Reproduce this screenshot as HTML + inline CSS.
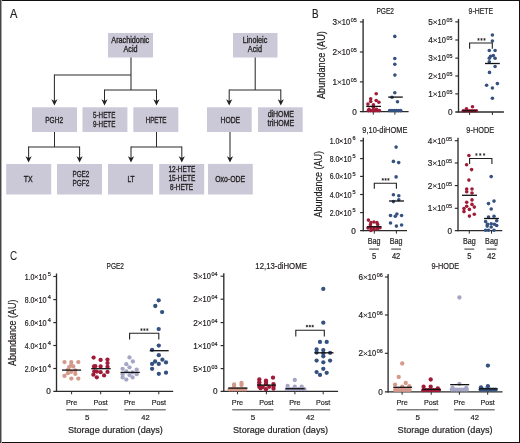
<!DOCTYPE html>
<html><head><meta charset="utf-8"><style>
html,body{margin:0;padding:0;background:#fff;}
body{width:520px;height:443px;overflow:hidden;position:relative;}
svg{position:absolute;left:0;top:0;font-family:"Liberation Sans", sans-serif;will-change:transform;}
#bd{position:absolute;left:0;top:0;width:520px;height:443px;box-sizing:border-box;}
</style></head><body>
<svg width="520" height="443" viewBox="0 0 520 443" font-family='"Liberation Sans", sans-serif'>
<rect x="0" y="0" width="520" height="443" fill="#fff"/>
<text x="13.6" y="17.6" font-size="12.4" text-anchor="middle" textLength="7.4" lengthAdjust="spacingAndGlyphs" fill="#231f20" stroke="#231f20" stroke-width="0.2" >A</text>
<rect x="108" y="33" width="45" height="24.5" fill="#cbc9d8"/>
<rect x="233" y="33" width="44.5" height="24.5" fill="#cbc9d8"/>
<rect x="32" y="107.3" width="45" height="24.700000000000003" fill="#cbc9d8"/>
<rect x="82.5" y="107.3" width="44.900000000000006" height="24.700000000000003" fill="#cbc9d8"/>
<rect x="133.3" y="107.3" width="45.0" height="24.700000000000003" fill="#cbc9d8"/>
<rect x="207" y="107.3" width="44.69999999999999" height="24.700000000000003" fill="#cbc9d8"/>
<rect x="258" y="107.3" width="44.69999999999999" height="24.700000000000003" fill="#cbc9d8"/>
<rect x="6.2" y="164" width="45.0" height="30.5" fill="#cbc9d8"/>
<rect x="57" y="164" width="45" height="30.5" fill="#cbc9d8"/>
<rect x="108" y="164" width="45" height="30.5" fill="#cbc9d8"/>
<rect x="159.2" y="164" width="45.0" height="30.5" fill="#cbc9d8"/>
<rect x="208" y="163.9" width="44.80000000000001" height="30.599999999999994" fill="#cbc9d8"/>
<text x="130.25" y="42.9" font-size="8.3" text-anchor="middle" textLength="37.8" lengthAdjust="spacingAndGlyphs" fill="#231f20" stroke="#231f20" stroke-width="0.32" >Arachidonic</text>
<text x="130.5" y="51.7" font-size="8.3" text-anchor="middle" textLength="14.0" lengthAdjust="spacingAndGlyphs" fill="#231f20" stroke="#231f20" stroke-width="0.32" >Acid</text>
<text x="255" y="42.7" font-size="8.3" text-anchor="middle" textLength="24.5" lengthAdjust="spacingAndGlyphs" fill="#231f20" stroke="#231f20" stroke-width="0.32" >Linoleic</text>
<text x="254.9" y="51.6" font-size="8.3" text-anchor="middle" textLength="14.1" lengthAdjust="spacingAndGlyphs" fill="#231f20" stroke="#231f20" stroke-width="0.32" >Acid</text>
<text x="54.15" y="122.5" font-size="8.3" text-anchor="middle" textLength="17.8" lengthAdjust="spacingAndGlyphs" fill="#231f20" stroke="#231f20" stroke-width="0.32" >PGH2</text>
<text x="104.2" y="117.7" font-size="8.3" text-anchor="middle" textLength="22.3" lengthAdjust="spacingAndGlyphs" fill="#231f20" stroke="#231f20" stroke-width="0.32" >5-HETE</text>
<text x="104.2" y="126.6" font-size="8.3" text-anchor="middle" textLength="22.3" lengthAdjust="spacingAndGlyphs" fill="#231f20" stroke="#231f20" stroke-width="0.32" >9-HETE</text>
<text x="156.1" y="122.8" font-size="8.3" text-anchor="middle" textLength="20.9" lengthAdjust="spacingAndGlyphs" fill="#231f20" stroke="#231f20" stroke-width="0.32" >HPETE</text>
<text x="230.35" y="122.7" font-size="8.3" text-anchor="middle" textLength="19.6" lengthAdjust="spacingAndGlyphs" fill="#231f20" stroke="#231f20" stroke-width="0.32" >HODE</text>
<text x="280.85" y="117.4" font-size="8.3" text-anchor="middle" textLength="26.4" lengthAdjust="spacingAndGlyphs" fill="#231f20" stroke="#231f20" stroke-width="0.32" >diHOME</text>
<text x="280.85" y="126.2" font-size="8.3" text-anchor="middle" textLength="26.8" lengthAdjust="spacingAndGlyphs" fill="#231f20" stroke="#231f20" stroke-width="0.32" >triHOME</text>
<text x="28.1" y="181.5" font-size="8.3" text-anchor="middle" textLength="8.9" lengthAdjust="spacingAndGlyphs" fill="#231f20" stroke="#231f20" stroke-width="0.32" >TX</text>
<text x="80.9" y="176.7" font-size="8.3" text-anchor="middle" textLength="16.9" lengthAdjust="spacingAndGlyphs" fill="#231f20" stroke="#231f20" stroke-width="0.32" >PGE2</text>
<text x="80.9" y="185.6" font-size="8.3" text-anchor="middle" textLength="16.9" lengthAdjust="spacingAndGlyphs" fill="#231f20" stroke="#231f20" stroke-width="0.32" >PGF2</text>
<text x="131.05" y="181.9" font-size="8.3" text-anchor="middle" textLength="7.2" lengthAdjust="spacingAndGlyphs" fill="#231f20" stroke="#231f20" stroke-width="0.32" >LT</text>
<text x="181.85" y="171.6" font-size="8.3" text-anchor="middle" textLength="26.8" lengthAdjust="spacingAndGlyphs" fill="#231f20" stroke="#231f20" stroke-width="0.32" >12-HETE</text>
<text x="181.85" y="180.6" font-size="8.3" text-anchor="middle" textLength="26.8" lengthAdjust="spacingAndGlyphs" fill="#231f20" stroke="#231f20" stroke-width="0.32" >15-HETE</text>
<text x="181.6" y="189.6" font-size="8.3" text-anchor="middle" textLength="23.1" lengthAdjust="spacingAndGlyphs" fill="#231f20" stroke="#231f20" stroke-width="0.32" >8-HETE</text>
<text x="230.15" y="181.9" font-size="8.3" text-anchor="middle" textLength="30.0" lengthAdjust="spacingAndGlyphs" fill="#231f20" stroke="#231f20" stroke-width="0.32" >Oxo-ODE</text>
<line x1="131" y1="57.5" x2="131" y2="90" stroke="#2b2b2b" stroke-width="1.05"/>
<line x1="54.4" y1="75" x2="131" y2="75" stroke="#2b2b2b" stroke-width="1.05"/>
<line x1="54.4" y1="74.5" x2="54.4" y2="101" stroke="#2b2b2b" stroke-width="1.05"/>
<path d="M51.3,99.3 L54.4,105.5 L57.5,99.3 L54.4,100.9 Z" fill="#231f20"/>
<line x1="104.5" y1="90" x2="156.5" y2="90" stroke="#2b2b2b" stroke-width="1.05"/>
<line x1="104.5" y1="89.5" x2="104.5" y2="101" stroke="#2b2b2b" stroke-width="1.05"/>
<path d="M101.4,99.3 L104.5,105.5 L107.6,99.3 L104.5,100.9 Z" fill="#231f20"/>
<line x1="156.5" y1="89.5" x2="156.5" y2="101" stroke="#2b2b2b" stroke-width="1.05"/>
<path d="M153.4,99.3 L156.5,105.5 L159.6,99.3 L156.5,100.9 Z" fill="#231f20"/>
<line x1="54.5" y1="132" x2="54.5" y2="147" stroke="#2b2b2b" stroke-width="1.05"/>
<line x1="28.6" y1="147" x2="79.6" y2="147" stroke="#2b2b2b" stroke-width="1.05"/>
<line x1="28.6" y1="146.5" x2="28.6" y2="158" stroke="#2b2b2b" stroke-width="1.05"/>
<path d="M25.5,156.3 L28.6,162.5 L31.700000000000003,156.3 L28.6,157.9 Z" fill="#231f20"/>
<line x1="79.6" y1="146.5" x2="79.6" y2="158" stroke="#2b2b2b" stroke-width="1.05"/>
<path d="M76.5,156.3 L79.6,162.5 L82.69999999999999,156.3 L79.6,157.9 Z" fill="#231f20"/>
<line x1="156.5" y1="132" x2="156.5" y2="147" stroke="#2b2b2b" stroke-width="1.05"/>
<line x1="131" y1="147" x2="181.8" y2="147" stroke="#2b2b2b" stroke-width="1.05"/>
<line x1="131" y1="146.5" x2="131" y2="158" stroke="#2b2b2b" stroke-width="1.05"/>
<path d="M127.9,156.3 L131,162.5 L134.1,156.3 L131,157.9 Z" fill="#231f20"/>
<line x1="181.8" y1="146.5" x2="181.8" y2="158" stroke="#2b2b2b" stroke-width="1.05"/>
<path d="M178.70000000000002,156.3 L181.8,162.5 L184.9,156.3 L181.8,157.9 Z" fill="#231f20"/>
<line x1="255.2" y1="57.5" x2="255.2" y2="90" stroke="#2b2b2b" stroke-width="1.05"/>
<line x1="229.2" y1="90" x2="280.8" y2="90" stroke="#2b2b2b" stroke-width="1.05"/>
<line x1="229.2" y1="89.5" x2="229.2" y2="101" stroke="#2b2b2b" stroke-width="1.05"/>
<path d="M226.1,99.3 L229.2,105.5 L232.29999999999998,99.3 L229.2,100.9 Z" fill="#231f20"/>
<line x1="280.8" y1="89.5" x2="280.8" y2="101" stroke="#2b2b2b" stroke-width="1.05"/>
<path d="M277.7,99.3 L280.8,105.5 L283.90000000000003,99.3 L280.8,100.9 Z" fill="#231f20"/>
<line x1="230" y1="132" x2="230" y2="158" stroke="#2b2b2b" stroke-width="1.05"/>
<path d="M226.9,156.3 L230,162.5 L233.1,156.3 L230,157.9 Z" fill="#231f20"/>
<text x="315.2" y="17.6" font-size="12.4" text-anchor="middle" textLength="6.6" lengthAdjust="spacingAndGlyphs" fill="#231f20" stroke="#231f20" stroke-width="0.2" >B</text>
<text x="385.25" y="13.9" font-size="8.6" text-anchor="middle" textLength="17.6" lengthAdjust="spacingAndGlyphs" fill="#231f20" stroke="#231f20" stroke-width="0.2" >PGE2</text>
<line x1="363.1" y1="18.9" x2="363.1" y2="112.3" stroke="#2b2b2b" stroke-width="1.35"/>
<line x1="359.90000000000003" y1="111.7" x2="408.6" y2="111.7" stroke="#2b2b2b" stroke-width="1.3"/>
<line x1="359.90000000000003" y1="21.9" x2="363.1" y2="21.9" stroke="#2b2b2b" stroke-width="1.15"/>
<line x1="359.90000000000003" y1="52.0" x2="363.1" y2="52.0" stroke="#2b2b2b" stroke-width="1.15"/>
<line x1="359.90000000000003" y1="81.9" x2="363.1" y2="81.9" stroke="#2b2b2b" stroke-width="1.15"/>
<line x1="373.3" y1="111.7" x2="373.3" y2="114.7" stroke="#2b2b2b" stroke-width="1.0"/>
<line x1="394.9" y1="111.7" x2="394.9" y2="114.7" stroke="#2b2b2b" stroke-width="1.0"/>
<text x="356.75" y="22.0" font-size="5.3" text-anchor="end" textLength="6.0" lengthAdjust="spacingAndGlyphs" fill="#231f20" stroke="#231f20" stroke-width="0.2" >05</text>
<text x="350.15000000000003" y="24.9" font-size="8.2" text-anchor="end" textLength="8.3" lengthAdjust="spacingAndGlyphs" fill="#231f20" stroke="#231f20" stroke-width="0.2" >10</text>
<path d="M337.60,20.60 L341.30,23.80 M337.60,23.80 L341.30,20.60" stroke="#231f20" stroke-width="0.85" fill="none"/>
<text x="337.0" y="24.9" font-size="8.2" text-anchor="end" fill="#231f20" stroke="#231f20" stroke-width="0.2" >3</text>
<text x="356.75" y="52.1" font-size="5.3" text-anchor="end" textLength="6.0" lengthAdjust="spacingAndGlyphs" fill="#231f20" stroke="#231f20" stroke-width="0.2" >05</text>
<text x="350.15000000000003" y="55.0" font-size="8.2" text-anchor="end" textLength="8.3" lengthAdjust="spacingAndGlyphs" fill="#231f20" stroke="#231f20" stroke-width="0.2" >10</text>
<path d="M337.60,50.70 L341.30,53.90 M337.60,53.90 L341.30,50.70" stroke="#231f20" stroke-width="0.85" fill="none"/>
<text x="337.0" y="55.0" font-size="8.2" text-anchor="end" fill="#231f20" stroke="#231f20" stroke-width="0.2" >2</text>
<text x="356.75" y="82.0" font-size="5.3" text-anchor="end" textLength="6.0" lengthAdjust="spacingAndGlyphs" fill="#231f20" stroke="#231f20" stroke-width="0.2" >05</text>
<text x="350.15000000000003" y="84.9" font-size="8.2" text-anchor="end" textLength="8.3" lengthAdjust="spacingAndGlyphs" fill="#231f20" stroke="#231f20" stroke-width="0.2" >10</text>
<path d="M337.60,80.60 L341.30,83.80 M337.60,83.80 L341.30,80.60" stroke="#231f20" stroke-width="0.85" fill="none"/>
<text x="337.0" y="84.9" font-size="8.2" text-anchor="end" fill="#231f20" stroke="#231f20" stroke-width="0.2" >1</text>
<text x="356.8" y="114.7" font-size="8.2" text-anchor="end" fill="#231f20" stroke="#231f20" stroke-width="0.2" >0</text>
<circle cx="376.2" cy="93.8" r="1.8" fill="#a01b37"/>
<circle cx="370.7" cy="98.8" r="1.8" fill="#a01b37"/>
<circle cx="370.7" cy="101.5" r="1.8" fill="#a01b37"/>
<circle cx="376.2" cy="100.5" r="1.8" fill="#a01b37"/>
<circle cx="378.9" cy="102.2" r="1.8" fill="#a01b37"/>
<circle cx="367.9" cy="104.1" r="1.8" fill="#a01b37"/>
<circle cx="373.4" cy="104.9" r="1.8" fill="#a01b37"/>
<circle cx="373.4" cy="107.5" r="1.8" fill="#a01b37"/>
<circle cx="368.4" cy="110.6" r="1.8" fill="#a01b37"/>
<circle cx="370.59999999999997" cy="110.6" r="1.8" fill="#a01b37"/>
<circle cx="372.79999999999995" cy="110.6" r="1.8" fill="#a01b37"/>
<circle cx="375.0" cy="110.6" r="1.8" fill="#a01b37"/>
<circle cx="377.2" cy="110.6" r="1.8" fill="#a01b37"/>
<circle cx="379.4" cy="110.6" r="1.8" fill="#a01b37"/>
<circle cx="369" cy="109.2" r="1.8" fill="#a01b37"/>
<circle cx="376.5" cy="109.3" r="1.8" fill="#a01b37"/>
<line x1="366.2" y1="106.4" x2="381" y2="106.4" stroke="#111" stroke-width="1.3"/>
<circle cx="394.8" cy="36.4" r="1.8" fill="#34517f"/>
<circle cx="394.8" cy="58.5" r="1.8" fill="#34517f"/>
<circle cx="394.8" cy="64.2" r="1.8" fill="#34517f"/>
<circle cx="394.9" cy="75.1" r="1.8" fill="#34517f"/>
<circle cx="394.8" cy="92.7" r="1.8" fill="#34517f"/>
<circle cx="392" cy="97.3" r="1.8" fill="#34517f"/>
<circle cx="397.5" cy="101.7" r="1.8" fill="#34517f"/>
<circle cx="389.7" cy="110.6" r="1.8" fill="#34517f"/>
<circle cx="391.9" cy="110.6" r="1.8" fill="#34517f"/>
<circle cx="394.09999999999997" cy="110.6" r="1.8" fill="#34517f"/>
<circle cx="396.3" cy="110.6" r="1.8" fill="#34517f"/>
<circle cx="398.5" cy="110.6" r="1.8" fill="#34517f"/>
<circle cx="400.7" cy="110.6" r="1.8" fill="#34517f"/>
<line x1="388.2" y1="97.1" x2="402.8" y2="97.1" stroke="#111" stroke-width="1.3"/>
<text x="480.8" y="14.0" font-size="8.6" text-anchor="middle" textLength="24.4" lengthAdjust="spacingAndGlyphs" fill="#231f20" stroke="#231f20" stroke-width="0.2" >9-HETE</text>
<line x1="458.5" y1="18.9" x2="458.5" y2="112.6" stroke="#2b2b2b" stroke-width="1.35"/>
<line x1="455.3" y1="112" x2="503.9" y2="112" stroke="#2b2b2b" stroke-width="1.3"/>
<line x1="455.3" y1="21.9" x2="458.5" y2="21.9" stroke="#2b2b2b" stroke-width="1.15"/>
<line x1="455.3" y1="40.0" x2="458.5" y2="40.0" stroke="#2b2b2b" stroke-width="1.15"/>
<line x1="455.3" y1="58.1" x2="458.5" y2="58.1" stroke="#2b2b2b" stroke-width="1.15"/>
<line x1="455.3" y1="76.0" x2="458.5" y2="76.0" stroke="#2b2b2b" stroke-width="1.15"/>
<line x1="455.3" y1="93.9" x2="458.5" y2="93.9" stroke="#2b2b2b" stroke-width="1.15"/>
<line x1="469.6" y1="112" x2="469.6" y2="115.0" stroke="#2b2b2b" stroke-width="1.0"/>
<line x1="492.4" y1="112" x2="492.4" y2="115.0" stroke="#2b2b2b" stroke-width="1.0"/>
<text x="452.45" y="22.0" font-size="5.3" text-anchor="end" textLength="6.0" lengthAdjust="spacingAndGlyphs" fill="#231f20" stroke="#231f20" stroke-width="0.2" >05</text>
<text x="445.85" y="24.9" font-size="8.2" text-anchor="end" textLength="8.3" lengthAdjust="spacingAndGlyphs" fill="#231f20" stroke="#231f20" stroke-width="0.2" >10</text>
<path d="M433.30,20.60 L437.00,23.80 M433.30,23.80 L437.00,20.60" stroke="#231f20" stroke-width="0.85" fill="none"/>
<text x="432.7" y="24.9" font-size="8.2" text-anchor="end" fill="#231f20" stroke="#231f20" stroke-width="0.2" >5</text>
<text x="452.45" y="40.1" font-size="5.3" text-anchor="end" textLength="6.0" lengthAdjust="spacingAndGlyphs" fill="#231f20" stroke="#231f20" stroke-width="0.2" >05</text>
<text x="445.85" y="43.0" font-size="8.2" text-anchor="end" textLength="8.3" lengthAdjust="spacingAndGlyphs" fill="#231f20" stroke="#231f20" stroke-width="0.2" >10</text>
<path d="M433.30,38.70 L437.00,41.90 M433.30,41.90 L437.00,38.70" stroke="#231f20" stroke-width="0.85" fill="none"/>
<text x="432.7" y="43.0" font-size="8.2" text-anchor="end" fill="#231f20" stroke="#231f20" stroke-width="0.2" >4</text>
<text x="452.45" y="58.2" font-size="5.3" text-anchor="end" textLength="6.0" lengthAdjust="spacingAndGlyphs" fill="#231f20" stroke="#231f20" stroke-width="0.2" >05</text>
<text x="445.85" y="61.1" font-size="8.2" text-anchor="end" textLength="8.3" lengthAdjust="spacingAndGlyphs" fill="#231f20" stroke="#231f20" stroke-width="0.2" >10</text>
<path d="M433.30,56.80 L437.00,60.00 M433.30,60.00 L437.00,56.80" stroke="#231f20" stroke-width="0.85" fill="none"/>
<text x="432.7" y="61.1" font-size="8.2" text-anchor="end" fill="#231f20" stroke="#231f20" stroke-width="0.2" >3</text>
<text x="452.45" y="76.1" font-size="5.3" text-anchor="end" textLength="6.0" lengthAdjust="spacingAndGlyphs" fill="#231f20" stroke="#231f20" stroke-width="0.2" >05</text>
<text x="445.85" y="79.0" font-size="8.2" text-anchor="end" textLength="8.3" lengthAdjust="spacingAndGlyphs" fill="#231f20" stroke="#231f20" stroke-width="0.2" >10</text>
<path d="M433.30,74.70 L437.00,77.90 M433.30,77.90 L437.00,74.70" stroke="#231f20" stroke-width="0.85" fill="none"/>
<text x="432.7" y="79.0" font-size="8.2" text-anchor="end" fill="#231f20" stroke="#231f20" stroke-width="0.2" >2</text>
<text x="452.45" y="94.0" font-size="5.3" text-anchor="end" textLength="6.0" lengthAdjust="spacingAndGlyphs" fill="#231f20" stroke="#231f20" stroke-width="0.2" >05</text>
<text x="445.85" y="96.9" font-size="8.2" text-anchor="end" textLength="8.3" lengthAdjust="spacingAndGlyphs" fill="#231f20" stroke="#231f20" stroke-width="0.2" >10</text>
<path d="M433.30,92.60 L437.00,95.80 M433.30,95.80 L437.00,92.60" stroke="#231f20" stroke-width="0.85" fill="none"/>
<text x="432.7" y="96.9" font-size="8.2" text-anchor="end" fill="#231f20" stroke="#231f20" stroke-width="0.2" >1</text>
<text x="452.5" y="115.0" font-size="8.2" text-anchor="end" fill="#231f20" stroke="#231f20" stroke-width="0.2" >0</text>
<circle cx="472.5" cy="106.7" r="1.8" fill="#a01b37"/>
<circle cx="466.5" cy="108.8" r="1.8" fill="#a01b37"/>
<circle cx="463.2" cy="110.7" r="1.8" fill="#a01b37"/>
<circle cx="465.4" cy="110.7" r="1.8" fill="#a01b37"/>
<circle cx="467.59999999999997" cy="110.7" r="1.8" fill="#a01b37"/>
<circle cx="469.8" cy="110.7" r="1.8" fill="#a01b37"/>
<circle cx="472.0" cy="110.7" r="1.8" fill="#a01b37"/>
<circle cx="474.2" cy="110.7" r="1.8" fill="#a01b37"/>
<circle cx="476.4" cy="110.7" r="1.8" fill="#a01b37"/>
<line x1="462.4" y1="110.8" x2="476.7" y2="110.8" stroke="#111" stroke-width="1.3"/>
<circle cx="492.4" cy="35" r="1.8" fill="#34517f"/>
<circle cx="492.4" cy="41" r="1.8" fill="#34517f"/>
<circle cx="489.3" cy="50.5" r="1.8" fill="#34517f"/>
<circle cx="495.1" cy="50.5" r="1.8" fill="#34517f"/>
<circle cx="490.6" cy="56.3" r="1.8" fill="#34517f"/>
<circle cx="493.3" cy="55.6" r="1.8" fill="#34517f"/>
<circle cx="495.1" cy="58.3" r="1.8" fill="#34517f"/>
<circle cx="489.3" cy="58.3" r="1.8" fill="#34517f"/>
<circle cx="489.3" cy="61.7" r="1.8" fill="#34517f"/>
<circle cx="495.1" cy="66.5" r="1.8" fill="#34517f"/>
<circle cx="489.5" cy="72.4" r="1.8" fill="#34517f"/>
<circle cx="486.6" cy="85.3" r="1.8" fill="#34517f"/>
<circle cx="492.4" cy="88" r="1.8" fill="#34517f"/>
<circle cx="497.4" cy="83.6" r="1.8" fill="#34517f"/>
<circle cx="492.4" cy="98.2" r="1.8" fill="#34517f"/>
<line x1="485" y1="63.5" x2="499.8" y2="63.5" stroke="#111" stroke-width="1.3"/>
<path d="M469.6,48.8 L469.6,43 L492.3,43 L492.3,48.8" fill="none" stroke="#231f20" stroke-width="1.1"/>
<path d="M478.50,38.15 L478.50,40.65 M479.58,38.77 L477.42,40.02 M479.58,40.02 L477.42,38.77 " stroke="#231f20" stroke-width="0.75" fill="none"/>
<path d="M481.50,38.15 L481.50,40.65 M482.58,38.77 L480.42,40.02 M482.58,40.02 L480.42,38.77 " stroke="#231f20" stroke-width="0.75" fill="none"/>
<path d="M484.50,38.15 L484.50,40.65 M485.58,38.77 L483.42,40.02 M485.58,40.02 L483.42,38.77 " stroke="#231f20" stroke-width="0.75" fill="none"/>
<text x="384.85" y="132.9" font-size="8.6" text-anchor="middle" textLength="45" lengthAdjust="spacingAndGlyphs" fill="#231f20" stroke="#231f20" stroke-width="0.2" >9,10-diHOME</text>
<line x1="363.3" y1="137.8" x2="363.3" y2="231.2" stroke="#2b2b2b" stroke-width="1.35"/>
<line x1="360.1" y1="230.6" x2="407" y2="230.6" stroke="#2b2b2b" stroke-width="1.3"/>
<line x1="360.1" y1="140.8" x2="363.3" y2="140.8" stroke="#2b2b2b" stroke-width="1.15"/>
<line x1="360.1" y1="158.6" x2="363.3" y2="158.6" stroke="#2b2b2b" stroke-width="1.15"/>
<line x1="360.1" y1="176.4" x2="363.3" y2="176.4" stroke="#2b2b2b" stroke-width="1.15"/>
<line x1="360.1" y1="194.5" x2="363.3" y2="194.5" stroke="#2b2b2b" stroke-width="1.15"/>
<line x1="360.1" y1="212.6" x2="363.3" y2="212.6" stroke="#2b2b2b" stroke-width="1.15"/>
<line x1="374.3" y1="230.6" x2="374.3" y2="233.6" stroke="#2b2b2b" stroke-width="1.0"/>
<line x1="396.4" y1="230.6" x2="396.4" y2="233.6" stroke="#2b2b2b" stroke-width="1.0"/>
<text x="355.7" y="140.4" font-size="5.6" text-anchor="end" fill="#231f20" stroke="#231f20" stroke-width="0.2" >6</text>
<text x="351.5" y="143.8" font-size="8.2" text-anchor="end" textLength="8.1" lengthAdjust="spacingAndGlyphs" fill="#231f20" stroke="#231f20" stroke-width="0.2" >10</text>
<path d="M339.35,139.55 L342.85,142.65 M339.35,142.65 L342.85,139.55" stroke="#231f20" stroke-width="0.85" fill="none"/>
<text x="339.3" y="143.8" font-size="8.2" text-anchor="end" textLength="9.6" lengthAdjust="spacingAndGlyphs" fill="#231f20" stroke="#231f20" stroke-width="0.2" >1.0</text>
<text x="355.7" y="158.2" font-size="5.6" text-anchor="end" fill="#231f20" stroke="#231f20" stroke-width="0.2" >5</text>
<text x="351.5" y="161.6" font-size="8.2" text-anchor="end" textLength="8.1" lengthAdjust="spacingAndGlyphs" fill="#231f20" stroke="#231f20" stroke-width="0.2" >10</text>
<path d="M339.35,157.35 L342.85,160.45 M339.35,160.45 L342.85,157.35" stroke="#231f20" stroke-width="0.85" fill="none"/>
<text x="339.3" y="161.6" font-size="8.2" text-anchor="end" textLength="9.6" lengthAdjust="spacingAndGlyphs" fill="#231f20" stroke="#231f20" stroke-width="0.2" >8.0</text>
<text x="355.7" y="176.0" font-size="5.6" text-anchor="end" fill="#231f20" stroke="#231f20" stroke-width="0.2" >5</text>
<text x="351.5" y="179.4" font-size="8.2" text-anchor="end" textLength="8.1" lengthAdjust="spacingAndGlyphs" fill="#231f20" stroke="#231f20" stroke-width="0.2" >10</text>
<path d="M339.35,175.15 L342.85,178.25 M339.35,178.25 L342.85,175.15" stroke="#231f20" stroke-width="0.85" fill="none"/>
<text x="339.3" y="179.4" font-size="8.2" text-anchor="end" textLength="9.6" lengthAdjust="spacingAndGlyphs" fill="#231f20" stroke="#231f20" stroke-width="0.2" >6.0</text>
<text x="355.7" y="194.1" font-size="5.6" text-anchor="end" fill="#231f20" stroke="#231f20" stroke-width="0.2" >5</text>
<text x="351.5" y="197.5" font-size="8.2" text-anchor="end" textLength="8.1" lengthAdjust="spacingAndGlyphs" fill="#231f20" stroke="#231f20" stroke-width="0.2" >10</text>
<path d="M339.35,193.25 L342.85,196.35 M339.35,196.35 L342.85,193.25" stroke="#231f20" stroke-width="0.85" fill="none"/>
<text x="339.3" y="197.5" font-size="8.2" text-anchor="end" textLength="9.6" lengthAdjust="spacingAndGlyphs" fill="#231f20" stroke="#231f20" stroke-width="0.2" >4.0</text>
<text x="355.7" y="212.2" font-size="5.6" text-anchor="end" fill="#231f20" stroke="#231f20" stroke-width="0.2" >5</text>
<text x="351.5" y="215.6" font-size="8.2" text-anchor="end" textLength="8.1" lengthAdjust="spacingAndGlyphs" fill="#231f20" stroke="#231f20" stroke-width="0.2" >10</text>
<path d="M339.35,211.35 L342.85,214.45 M339.35,214.45 L342.85,211.35" stroke="#231f20" stroke-width="0.85" fill="none"/>
<text x="339.3" y="215.6" font-size="8.2" text-anchor="end" textLength="9.6" lengthAdjust="spacingAndGlyphs" fill="#231f20" stroke="#231f20" stroke-width="0.2" >2.0</text>
<text x="355.7" y="233.6" font-size="8.2" text-anchor="end" fill="#231f20" stroke="#231f20" stroke-width="0.2" >0</text>
<circle cx="368.4" cy="220.1" r="1.8" fill="#a01b37"/>
<circle cx="370.9" cy="222.6" r="1.8" fill="#a01b37"/>
<circle cx="373.9" cy="222" r="1.8" fill="#a01b37"/>
<circle cx="376.9" cy="222.6" r="1.8" fill="#a01b37"/>
<circle cx="370.4" cy="224.7" r="1.8" fill="#a01b37"/>
<circle cx="377.7" cy="224.5" r="1.8" fill="#a01b37"/>
<circle cx="368" cy="228" r="1.8" fill="#a01b37"/>
<circle cx="370.9" cy="227.7" r="1.8" fill="#a01b37"/>
<circle cx="373.9" cy="228" r="1.8" fill="#a01b37"/>
<circle cx="376.9" cy="227.7" r="1.8" fill="#a01b37"/>
<circle cx="379.9" cy="227.7" r="1.8" fill="#a01b37"/>
<circle cx="370.9" cy="230.4" r="1.8" fill="#a01b37"/>
<circle cx="373.9" cy="229.3" r="1.8" fill="#a01b37"/>
<circle cx="377.4" cy="229" r="1.8" fill="#a01b37"/>
<line x1="366.9" y1="226.7" x2="381.5" y2="226.7" stroke="#111" stroke-width="1.3"/>
<circle cx="396.1" cy="147.1" r="1.8" fill="#34517f"/>
<circle cx="393.4" cy="161.4" r="1.8" fill="#34517f"/>
<circle cx="398.7" cy="162.6" r="1.8" fill="#34517f"/>
<circle cx="396.1" cy="176.9" r="1.8" fill="#34517f"/>
<circle cx="393.4" cy="194.7" r="1.8" fill="#34517f"/>
<circle cx="398.8" cy="195.8" r="1.8" fill="#34517f"/>
<circle cx="393.4" cy="201.6" r="1.8" fill="#34517f"/>
<circle cx="398.8" cy="199.7" r="1.8" fill="#34517f"/>
<circle cx="390.5" cy="215.5" r="1.8" fill="#34517f"/>
<circle cx="396.9" cy="214" r="1.8" fill="#34517f"/>
<circle cx="401.6" cy="215.5" r="1.8" fill="#34517f"/>
<circle cx="395.3" cy="216.3" r="1.8" fill="#34517f"/>
<circle cx="390.5" cy="223" r="1.8" fill="#34517f"/>
<circle cx="396.4" cy="226.1" r="1.8" fill="#34517f"/>
<circle cx="401.6" cy="225" r="1.8" fill="#34517f"/>
<line x1="389" y1="201" x2="404" y2="201" stroke="#111" stroke-width="1.3"/>
<path d="M374.3,188.7 L374.3,183.2 L396.4,183.2 L396.4,188.7" fill="none" stroke="#231f20" stroke-width="1.1"/>
<path d="M382.80,178.15 L382.80,180.65 M383.88,178.78 L381.72,180.03 M383.88,180.03 L381.72,178.78 " stroke="#231f20" stroke-width="0.75" fill="none"/>
<path d="M385.60,178.15 L385.60,180.65 M386.68,178.78 L384.52,180.03 M386.68,180.03 L384.52,178.78 " stroke="#231f20" stroke-width="0.75" fill="none"/>
<path d="M388.40,178.15 L388.40,180.65 M389.48,178.78 L387.32,180.03 M389.48,180.03 L387.32,178.78 " stroke="#231f20" stroke-width="0.75" fill="none"/>
<text x="480.25" y="132.9" font-size="8.6" text-anchor="middle" textLength="27.8" lengthAdjust="spacingAndGlyphs" fill="#231f20" stroke="#231f20" stroke-width="0.2" >9-HODE</text>
<line x1="458" y1="137.7" x2="458" y2="231.2" stroke="#2b2b2b" stroke-width="1.35"/>
<line x1="454.8" y1="230.6" x2="502.3" y2="230.6" stroke="#2b2b2b" stroke-width="1.3"/>
<line x1="454.8" y1="140.7" x2="458" y2="140.7" stroke="#2b2b2b" stroke-width="1.15"/>
<line x1="454.8" y1="163.0" x2="458" y2="163.0" stroke="#2b2b2b" stroke-width="1.15"/>
<line x1="454.8" y1="185.6" x2="458" y2="185.6" stroke="#2b2b2b" stroke-width="1.15"/>
<line x1="454.8" y1="208.3" x2="458" y2="208.3" stroke="#2b2b2b" stroke-width="1.15"/>
<line x1="469.3" y1="230.6" x2="469.3" y2="233.6" stroke="#2b2b2b" stroke-width="1.0"/>
<line x1="491.5" y1="230.6" x2="491.5" y2="233.6" stroke="#2b2b2b" stroke-width="1.0"/>
<text x="452.05" y="140.79999999999998" font-size="5.3" text-anchor="end" textLength="6.0" lengthAdjust="spacingAndGlyphs" fill="#231f20" stroke="#231f20" stroke-width="0.2" >05</text>
<text x="445.45000000000005" y="143.7" font-size="8.2" text-anchor="end" textLength="8.3" lengthAdjust="spacingAndGlyphs" fill="#231f20" stroke="#231f20" stroke-width="0.2" >10</text>
<path d="M432.90,139.40 L436.60,142.60 M432.90,142.60 L436.60,139.40" stroke="#231f20" stroke-width="0.85" fill="none"/>
<text x="432.3" y="143.7" font-size="8.2" text-anchor="end" fill="#231f20" stroke="#231f20" stroke-width="0.2" >4</text>
<text x="452.05" y="163.1" font-size="5.3" text-anchor="end" textLength="6.0" lengthAdjust="spacingAndGlyphs" fill="#231f20" stroke="#231f20" stroke-width="0.2" >05</text>
<text x="445.45000000000005" y="166.0" font-size="8.2" text-anchor="end" textLength="8.3" lengthAdjust="spacingAndGlyphs" fill="#231f20" stroke="#231f20" stroke-width="0.2" >10</text>
<path d="M432.90,161.70 L436.60,164.90 M432.90,164.90 L436.60,161.70" stroke="#231f20" stroke-width="0.85" fill="none"/>
<text x="432.3" y="166.0" font-size="8.2" text-anchor="end" fill="#231f20" stroke="#231f20" stroke-width="0.2" >3</text>
<text x="452.05" y="185.7" font-size="5.3" text-anchor="end" textLength="6.0" lengthAdjust="spacingAndGlyphs" fill="#231f20" stroke="#231f20" stroke-width="0.2" >05</text>
<text x="445.45000000000005" y="188.6" font-size="8.2" text-anchor="end" textLength="8.3" lengthAdjust="spacingAndGlyphs" fill="#231f20" stroke="#231f20" stroke-width="0.2" >10</text>
<path d="M432.90,184.30 L436.60,187.50 M432.90,187.50 L436.60,184.30" stroke="#231f20" stroke-width="0.85" fill="none"/>
<text x="432.3" y="188.6" font-size="8.2" text-anchor="end" fill="#231f20" stroke="#231f20" stroke-width="0.2" >2</text>
<text x="452.05" y="208.4" font-size="5.3" text-anchor="end" textLength="6.0" lengthAdjust="spacingAndGlyphs" fill="#231f20" stroke="#231f20" stroke-width="0.2" >05</text>
<text x="445.45000000000005" y="211.3" font-size="8.2" text-anchor="end" textLength="8.3" lengthAdjust="spacingAndGlyphs" fill="#231f20" stroke="#231f20" stroke-width="0.2" >10</text>
<path d="M432.90,207.00 L436.60,210.20 M432.90,210.20 L436.60,207.00" stroke="#231f20" stroke-width="0.85" fill="none"/>
<text x="432.3" y="211.3" font-size="8.2" text-anchor="end" fill="#231f20" stroke="#231f20" stroke-width="0.2" >1</text>
<text x="452.1" y="233.6" font-size="8.2" text-anchor="end" fill="#231f20" stroke="#231f20" stroke-width="0.2" >0</text>
<circle cx="468.9" cy="155.5" r="1.8" fill="#a01b37"/>
<circle cx="466.6" cy="164.7" r="1.8" fill="#a01b37"/>
<circle cx="471.6" cy="169.6" r="1.8" fill="#a01b37"/>
<circle cx="468.9" cy="180.1" r="1.8" fill="#a01b37"/>
<circle cx="466.7" cy="189" r="1.8" fill="#a01b37"/>
<circle cx="472" cy="189" r="1.8" fill="#a01b37"/>
<circle cx="466.7" cy="191.7" r="1.8" fill="#a01b37"/>
<circle cx="472" cy="193" r="1.8" fill="#a01b37"/>
<circle cx="472" cy="199.9" r="1.8" fill="#a01b37"/>
<circle cx="466.7" cy="202.2" r="1.8" fill="#a01b37"/>
<circle cx="472" cy="204.4" r="1.8" fill="#a01b37"/>
<circle cx="466.7" cy="206.2" r="1.8" fill="#a01b37"/>
<circle cx="474.3" cy="207.1" r="1.8" fill="#a01b37"/>
<circle cx="464" cy="208.5" r="1.8" fill="#a01b37"/>
<circle cx="469.4" cy="209.4" r="1.8" fill="#a01b37"/>
<circle cx="464" cy="211.6" r="1.8" fill="#a01b37"/>
<circle cx="474.3" cy="214.3" r="1.8" fill="#a01b37"/>
<circle cx="469.4" cy="216.1" r="1.8" fill="#a01b37"/>
<line x1="462" y1="195.3" x2="477" y2="195.3" stroke="#111" stroke-width="1.3"/>
<circle cx="491.2" cy="176.6" r="1.8" fill="#34517f"/>
<circle cx="488.5" cy="203.6" r="1.8" fill="#34517f"/>
<circle cx="494" cy="201.1" r="1.8" fill="#34517f"/>
<circle cx="491.2" cy="209" r="1.8" fill="#34517f"/>
<circle cx="488.5" cy="217.1" r="1.8" fill="#34517f"/>
<circle cx="494" cy="216.2" r="1.8" fill="#34517f"/>
<circle cx="485.6" cy="221.6" r="1.8" fill="#34517f"/>
<circle cx="496.7" cy="220.7" r="1.8" fill="#34517f"/>
<circle cx="487.6" cy="224.3" r="1.8" fill="#34517f"/>
<circle cx="491.2" cy="223.7" r="1.8" fill="#34517f"/>
<circle cx="494.4" cy="224.3" r="1.8" fill="#34517f"/>
<circle cx="496.7" cy="225.5" r="1.8" fill="#34517f"/>
<circle cx="487.2" cy="226.1" r="1.8" fill="#34517f"/>
<circle cx="491.2" cy="227" r="1.8" fill="#34517f"/>
<circle cx="485.6" cy="230.2" r="1.8" fill="#34517f"/>
<circle cx="488.5" cy="230.2" r="1.8" fill="#34517f"/>
<circle cx="494" cy="230.2" r="1.8" fill="#34517f"/>
<line x1="484" y1="218.5" x2="498.9" y2="218.5" stroke="#111" stroke-width="1.3"/>
<path d="M469.6,163.9 L469.6,158.5 L491.9,158.5 L491.9,163.9" fill="none" stroke="#231f20" stroke-width="1.1"/>
<path d="M476.42,153.25 L476.42,155.75 M477.50,153.88 L475.33,155.12 M477.50,155.12 L475.33,153.88 " stroke="#231f20" stroke-width="0.75" fill="none"/>
<path d="M480.25,153.25 L480.25,155.75 M481.33,153.88 L479.17,155.12 M481.33,155.12 L479.17,153.88 " stroke="#231f20" stroke-width="0.75" fill="none"/>
<path d="M484.08,153.25 L484.08,155.75 M485.17,153.88 L483.00,155.12 M485.17,155.12 L483.00,153.88 " stroke="#231f20" stroke-width="0.75" fill="none"/>
<text x="374.1" y="243.8" font-size="8.4" text-anchor="middle" textLength="12.8" lengthAdjust="spacingAndGlyphs" fill="#231f20" stroke="#231f20" stroke-width="0.2" >Bag</text>
<line x1="369.20000000000005" y1="249.1" x2="379.0" y2="249.1" stroke="#606060" stroke-width="1.3"/>
<text x="374.1" y="259.2" font-size="8.3" text-anchor="middle" textLength="4.2" lengthAdjust="spacingAndGlyphs" fill="#231f20" stroke="#231f20" stroke-width="0.2" >5</text>
<text x="396.1" y="243.8" font-size="8.4" text-anchor="middle" textLength="12.8" lengthAdjust="spacingAndGlyphs" fill="#231f20" stroke="#231f20" stroke-width="0.2" >Bag</text>
<line x1="391.20000000000005" y1="249.1" x2="401.0" y2="249.1" stroke="#606060" stroke-width="1.3"/>
<text x="396.1" y="259.2" font-size="8.3" text-anchor="middle" textLength="8.4" lengthAdjust="spacingAndGlyphs" fill="#231f20" stroke="#231f20" stroke-width="0.2" >42</text>
<text x="469.3" y="243.8" font-size="8.4" text-anchor="middle" textLength="12.8" lengthAdjust="spacingAndGlyphs" fill="#231f20" stroke="#231f20" stroke-width="0.2" >Bag</text>
<line x1="464.40000000000003" y1="249.1" x2="474.2" y2="249.1" stroke="#606060" stroke-width="1.3"/>
<text x="469.3" y="259.2" font-size="8.3" text-anchor="middle" textLength="4.2" lengthAdjust="spacingAndGlyphs" fill="#231f20" stroke="#231f20" stroke-width="0.2" >5</text>
<text x="491.5" y="243.8" font-size="8.4" text-anchor="middle" textLength="12.8" lengthAdjust="spacingAndGlyphs" fill="#231f20" stroke="#231f20" stroke-width="0.2" >Bag</text>
<line x1="486.6" y1="249.1" x2="496.4" y2="249.1" stroke="#606060" stroke-width="1.3"/>
<text x="491.5" y="259.2" font-size="8.3" text-anchor="middle" textLength="8.4" lengthAdjust="spacingAndGlyphs" fill="#231f20" stroke="#231f20" stroke-width="0.2" >42</text>
<text transform="translate(325,65.1) rotate(-90)" font-size="10" text-anchor="middle" textLength="68" lengthAdjust="spacingAndGlyphs" fill="#231f20" stroke="#231f20" stroke-width="0.2">Abundance (AU)</text>
<text transform="translate(321.8,184.3) rotate(-90)" font-size="10" text-anchor="middle" textLength="66.6" lengthAdjust="spacingAndGlyphs" fill="#231f20" stroke="#231f20" stroke-width="0.2">Abundance (AU)</text>
<text x="13.6" y="259.9" font-size="12.4" text-anchor="middle" textLength="7.2" lengthAdjust="spacingAndGlyphs" fill="#231f20" stroke="#231f20" stroke-width="0.2" stroke-opacity="0">C</text>
<text transform="translate(16.2,332.7) rotate(-90)" font-size="10" text-anchor="middle" textLength="66.6" lengthAdjust="spacingAndGlyphs" fill="#231f20" stroke="#231f20" stroke-width="0.2">Abundance (AU)</text>
<text x="115.3" y="268.6" font-size="8.6" text-anchor="middle" textLength="17.4" lengthAdjust="spacingAndGlyphs" fill="#231f20" stroke="#231f20" stroke-width="0.2" >PGE2</text>
<line x1="56.5" y1="273.5" x2="56.5" y2="391.90000000000003" stroke="#2b2b2b" stroke-width="1.35"/>
<line x1="53.3" y1="391.3" x2="173.2" y2="391.3" stroke="#2b2b2b" stroke-width="1.3"/>
<line x1="53.3" y1="276.5" x2="56.5" y2="276.5" stroke="#2b2b2b" stroke-width="1.15"/>
<line x1="53.3" y1="299.6" x2="56.5" y2="299.6" stroke="#2b2b2b" stroke-width="1.15"/>
<line x1="53.3" y1="322.6" x2="56.5" y2="322.6" stroke="#2b2b2b" stroke-width="1.15"/>
<line x1="53.3" y1="345.5" x2="56.5" y2="345.5" stroke="#2b2b2b" stroke-width="1.15"/>
<line x1="53.3" y1="368.5" x2="56.5" y2="368.5" stroke="#2b2b2b" stroke-width="1.15"/>
<line x1="71.6" y1="391.3" x2="71.6" y2="394.3" stroke="#2b2b2b" stroke-width="1.0"/>
<line x1="100.7" y1="391.3" x2="100.7" y2="394.3" stroke="#2b2b2b" stroke-width="1.0"/>
<line x1="129.6" y1="391.3" x2="129.6" y2="394.3" stroke="#2b2b2b" stroke-width="1.0"/>
<line x1="158.8" y1="391.3" x2="158.8" y2="394.3" stroke="#2b2b2b" stroke-width="1.0"/>
<text x="50.8" y="276.1" font-size="5.6" text-anchor="end" fill="#231f20" stroke="#231f20" stroke-width="0.2" >5</text>
<text x="46.599999999999994" y="279.5" font-size="8.2" text-anchor="end" textLength="8.1" lengthAdjust="spacingAndGlyphs" fill="#231f20" stroke="#231f20" stroke-width="0.2" >10</text>
<path d="M34.45,275.25 L37.95,278.35 M34.45,278.35 L37.95,275.25" stroke="#231f20" stroke-width="0.85" fill="none"/>
<text x="34.4" y="279.5" font-size="8.2" text-anchor="end" textLength="9.6" lengthAdjust="spacingAndGlyphs" fill="#231f20" stroke="#231f20" stroke-width="0.2" >1.0</text>
<text x="50.8" y="299.20000000000005" font-size="5.6" text-anchor="end" fill="#231f20" stroke="#231f20" stroke-width="0.2" >4</text>
<text x="46.599999999999994" y="302.6" font-size="8.2" text-anchor="end" textLength="8.1" lengthAdjust="spacingAndGlyphs" fill="#231f20" stroke="#231f20" stroke-width="0.2" >10</text>
<path d="M34.45,298.35 L37.95,301.45 M34.45,301.45 L37.95,298.35" stroke="#231f20" stroke-width="0.85" fill="none"/>
<text x="34.4" y="302.6" font-size="8.2" text-anchor="end" textLength="9.6" lengthAdjust="spacingAndGlyphs" fill="#231f20" stroke="#231f20" stroke-width="0.2" >8.0</text>
<text x="50.8" y="322.20000000000005" font-size="5.6" text-anchor="end" fill="#231f20" stroke="#231f20" stroke-width="0.2" >4</text>
<text x="46.599999999999994" y="325.6" font-size="8.2" text-anchor="end" textLength="8.1" lengthAdjust="spacingAndGlyphs" fill="#231f20" stroke="#231f20" stroke-width="0.2" >10</text>
<path d="M34.45,321.35 L37.95,324.45 M34.45,324.45 L37.95,321.35" stroke="#231f20" stroke-width="0.85" fill="none"/>
<text x="34.4" y="325.6" font-size="8.2" text-anchor="end" textLength="9.6" lengthAdjust="spacingAndGlyphs" fill="#231f20" stroke="#231f20" stroke-width="0.2" >6.0</text>
<text x="50.8" y="345.1" font-size="5.6" text-anchor="end" fill="#231f20" stroke="#231f20" stroke-width="0.2" >4</text>
<text x="46.599999999999994" y="348.5" font-size="8.2" text-anchor="end" textLength="8.1" lengthAdjust="spacingAndGlyphs" fill="#231f20" stroke="#231f20" stroke-width="0.2" >10</text>
<path d="M34.45,344.25 L37.95,347.35 M34.45,347.35 L37.95,344.25" stroke="#231f20" stroke-width="0.85" fill="none"/>
<text x="34.4" y="348.5" font-size="8.2" text-anchor="end" textLength="9.6" lengthAdjust="spacingAndGlyphs" fill="#231f20" stroke="#231f20" stroke-width="0.2" >4.0</text>
<text x="50.8" y="368.1" font-size="5.6" text-anchor="end" fill="#231f20" stroke="#231f20" stroke-width="0.2" >4</text>
<text x="46.599999999999994" y="371.5" font-size="8.2" text-anchor="end" textLength="8.1" lengthAdjust="spacingAndGlyphs" fill="#231f20" stroke="#231f20" stroke-width="0.2" >10</text>
<path d="M34.45,367.25 L37.95,370.35 M34.45,370.35 L37.95,367.25" stroke="#231f20" stroke-width="0.85" fill="none"/>
<text x="34.4" y="371.5" font-size="8.2" text-anchor="end" textLength="9.6" lengthAdjust="spacingAndGlyphs" fill="#231f20" stroke="#231f20" stroke-width="0.2" >2.0</text>
<text x="50.8" y="394.3" font-size="8.2" text-anchor="end" fill="#231f20" stroke="#231f20" stroke-width="0.2" >0</text>
<text x="71.6" y="404.8" font-size="8.0" text-anchor="middle" textLength="11.3" lengthAdjust="spacingAndGlyphs" fill="#231f20" stroke="#231f20" stroke-width="0.2" >Pre</text>
<text x="100.7" y="404.8" font-size="8.0" text-anchor="middle" textLength="14.3" lengthAdjust="spacingAndGlyphs" fill="#231f20" stroke="#231f20" stroke-width="0.2" >Post</text>
<text x="129.6" y="404.8" font-size="8.0" text-anchor="middle" textLength="11.3" lengthAdjust="spacingAndGlyphs" fill="#231f20" stroke="#231f20" stroke-width="0.2" >Pre</text>
<text x="158.8" y="404.8" font-size="8.0" text-anchor="middle" textLength="14.3" lengthAdjust="spacingAndGlyphs" fill="#231f20" stroke="#231f20" stroke-width="0.2" >Post</text>
<line x1="66.3" y1="409.8" x2="107.7" y2="409.8" stroke="#7f7f7f" stroke-width="1.5"/>
<line x1="124.3" y1="409.8" x2="165.8" y2="409.8" stroke="#7f7f7f" stroke-width="1.5"/>
<text x="87.15" y="419.9" font-size="8.0" text-anchor="middle" fill="#231f20" stroke="#231f20" stroke-width="0.2" >5</text>
<text x="145.39999999999998" y="419.9" font-size="8.0" text-anchor="middle" textLength="8.4" lengthAdjust="spacingAndGlyphs" fill="#231f20" stroke="#231f20" stroke-width="0.2" >42</text>
<text x="115.4" y="433.0" font-size="9.4" text-anchor="middle" textLength="95" lengthAdjust="spacingAndGlyphs" fill="#231f20" stroke="#231f20" stroke-width="0.2" >Storage duration (days)</text>
<circle cx="64.5" cy="362.1" r="2.15" fill="#d4998a"/>
<circle cx="71.3" cy="362.1" r="2.15" fill="#d4998a"/>
<circle cx="78.3" cy="362.1" r="2.15" fill="#d4998a"/>
<circle cx="71.3" cy="365" r="2.15" fill="#d4998a"/>
<circle cx="73.3" cy="366.4" r="2.15" fill="#d4998a"/>
<circle cx="69.2" cy="367.1" r="2.15" fill="#d4998a"/>
<circle cx="67.9" cy="369.8" r="2.15" fill="#d4998a"/>
<circle cx="75.3" cy="370.5" r="2.15" fill="#d4998a"/>
<circle cx="71.3" cy="371.8" r="2.15" fill="#d4998a"/>
<circle cx="67.9" cy="373.2" r="2.15" fill="#d4998a"/>
<circle cx="75.3" cy="373.9" r="2.15" fill="#d4998a"/>
<circle cx="64.5" cy="375.9" r="2.15" fill="#d4998a"/>
<circle cx="71.3" cy="378.6" r="2.15" fill="#d4998a"/>
<circle cx="78.3" cy="378.6" r="2.15" fill="#d4998a"/>
<line x1="62" y1="370.1" x2="81.1" y2="370.1" stroke="#111" stroke-width="1.3"/>
<circle cx="93.6" cy="357.6" r="2.15" fill="#a01b37"/>
<circle cx="100.6" cy="359.9" r="2.15" fill="#a01b37"/>
<circle cx="107.5" cy="359.6" r="2.15" fill="#a01b37"/>
<circle cx="107.5" cy="363.1" r="2.15" fill="#a01b37"/>
<circle cx="94" cy="366.5" r="2.15" fill="#a01b37"/>
<circle cx="100.6" cy="366.5" r="2.15" fill="#a01b37"/>
<circle cx="95.3" cy="366.2" r="2.15" fill="#a01b37"/>
<circle cx="107.5" cy="366.8" r="2.15" fill="#a01b37"/>
<circle cx="94.3" cy="371.3" r="2.15" fill="#a01b37"/>
<circle cx="100.6" cy="372.2" r="2.15" fill="#a01b37"/>
<circle cx="96.8" cy="371.6" r="2.15" fill="#a01b37"/>
<circle cx="107.5" cy="371.9" r="2.15" fill="#a01b37"/>
<circle cx="93.4" cy="374.7" r="2.15" fill="#a01b37"/>
<circle cx="104.1" cy="375.4" r="2.15" fill="#a01b37"/>
<circle cx="96.8" cy="377.3" r="2.15" fill="#a01b37"/>
<line x1="91.2" y1="368.7" x2="110.7" y2="368.7" stroke="#111" stroke-width="1.3"/>
<circle cx="129.5" cy="357.4" r="2.15" fill="#a5a6c6"/>
<circle cx="132.9" cy="361.5" r="2.15" fill="#a5a6c6"/>
<circle cx="126.3" cy="364.2" r="2.15" fill="#a5a6c6"/>
<circle cx="129.5" cy="367.3" r="2.15" fill="#a5a6c6"/>
<circle cx="122.6" cy="368.8" r="2.15" fill="#a5a6c6"/>
<circle cx="136.7" cy="369.7" r="2.15" fill="#a5a6c6"/>
<circle cx="126.3" cy="371.5" r="2.15" fill="#a5a6c6"/>
<circle cx="132.6" cy="372.4" r="2.15" fill="#a5a6c6"/>
<circle cx="122.6" cy="374.2" r="2.15" fill="#a5a6c6"/>
<circle cx="136.7" cy="374.2" r="2.15" fill="#a5a6c6"/>
<circle cx="129.5" cy="375.1" r="2.15" fill="#a5a6c6"/>
<circle cx="122.6" cy="377.4" r="2.15" fill="#a5a6c6"/>
<circle cx="132.6" cy="377.4" r="2.15" fill="#a5a6c6"/>
<circle cx="126.3" cy="379.6" r="2.15" fill="#a5a6c6"/>
<line x1="120.5" y1="372.4" x2="139.8" y2="372.4" stroke="#111" stroke-width="1.3"/>
<circle cx="158.7" cy="300.3" r="2.15" fill="#34517f"/>
<circle cx="155.3" cy="306" r="2.15" fill="#34517f"/>
<circle cx="162.1" cy="312.1" r="2.15" fill="#34517f"/>
<circle cx="158.7" cy="329.1" r="2.15" fill="#34517f"/>
<circle cx="158.8" cy="345.6" r="2.15" fill="#34517f"/>
<circle cx="152.1" cy="349.8" r="2.15" fill="#34517f"/>
<circle cx="158.8" cy="355.2" r="2.15" fill="#34517f"/>
<circle cx="155.1" cy="361.5" r="2.15" fill="#34517f"/>
<circle cx="162.4" cy="359.7" r="2.15" fill="#34517f"/>
<circle cx="152.1" cy="363.9" r="2.15" fill="#34517f"/>
<circle cx="158.8" cy="363.9" r="2.15" fill="#34517f"/>
<circle cx="166" cy="362.4" r="2.15" fill="#34517f"/>
<circle cx="152.1" cy="368.8" r="2.15" fill="#34517f"/>
<circle cx="158.8" cy="373.8" r="2.15" fill="#34517f"/>
<circle cx="166" cy="372.7" r="2.15" fill="#34517f"/>
<line x1="149.7" y1="350.7" x2="168.7" y2="350.7" stroke="#111" stroke-width="1.3"/>
<path d="M129.6,339.5 L129.6,333.3 L158.8,333.3 L158.8,339.5" fill="none" stroke="#231f20" stroke-width="1.1"/>
<path d="M141.47,328.35 L141.47,330.85 M142.55,328.98 L140.38,330.23 M142.55,330.23 L140.38,328.98 " stroke="#231f20" stroke-width="0.75" fill="none"/>
<path d="M144.40,328.35 L144.40,330.85 M145.48,328.98 L143.32,330.23 M145.48,330.23 L143.32,328.98 " stroke="#231f20" stroke-width="0.75" fill="none"/>
<path d="M147.33,328.35 L147.33,330.85 M148.42,328.98 L146.25,330.23 M148.42,330.23 L146.25,328.98 " stroke="#231f20" stroke-width="0.75" fill="none"/>
<text x="281.1" y="269.0" font-size="8.6" text-anchor="middle" textLength="51.5" lengthAdjust="spacingAndGlyphs" fill="#231f20" stroke="#231f20" stroke-width="0.2" >12,13-diHOME</text>
<line x1="223.8" y1="273.2" x2="223.8" y2="391.90000000000003" stroke="#2b2b2b" stroke-width="1.35"/>
<line x1="220.60000000000002" y1="391.3" x2="338.1" y2="391.3" stroke="#2b2b2b" stroke-width="1.3"/>
<line x1="220.60000000000002" y1="276.2" x2="223.8" y2="276.2" stroke="#2b2b2b" stroke-width="1.15"/>
<line x1="220.60000000000002" y1="299.2" x2="223.8" y2="299.2" stroke="#2b2b2b" stroke-width="1.15"/>
<line x1="220.60000000000002" y1="322.6" x2="223.8" y2="322.6" stroke="#2b2b2b" stroke-width="1.15"/>
<line x1="220.60000000000002" y1="345.6" x2="223.8" y2="345.6" stroke="#2b2b2b" stroke-width="1.15"/>
<line x1="220.60000000000002" y1="368.6" x2="223.8" y2="368.6" stroke="#2b2b2b" stroke-width="1.15"/>
<line x1="237.5" y1="391.3" x2="237.5" y2="394.3" stroke="#2b2b2b" stroke-width="1.0"/>
<line x1="266.4" y1="391.3" x2="266.4" y2="394.3" stroke="#2b2b2b" stroke-width="1.0"/>
<line x1="294.9" y1="391.3" x2="294.9" y2="394.3" stroke="#2b2b2b" stroke-width="1.0"/>
<line x1="323.2" y1="391.3" x2="323.2" y2="394.3" stroke="#2b2b2b" stroke-width="1.0"/>
<text x="217.45" y="276.3" font-size="5.3" text-anchor="end" textLength="6.0" lengthAdjust="spacingAndGlyphs" fill="#231f20" stroke="#231f20" stroke-width="0.2" >04</text>
<text x="210.85" y="279.2" font-size="8.2" text-anchor="end" textLength="8.3" lengthAdjust="spacingAndGlyphs" fill="#231f20" stroke="#231f20" stroke-width="0.2" >10</text>
<path d="M198.30,274.90 L202.00,278.10 M198.30,278.10 L202.00,274.90" stroke="#231f20" stroke-width="0.85" fill="none"/>
<text x="197.7" y="279.2" font-size="8.2" text-anchor="end" fill="#231f20" stroke="#231f20" stroke-width="0.2" >3</text>
<text x="217.45" y="299.3" font-size="5.3" text-anchor="end" textLength="6.0" lengthAdjust="spacingAndGlyphs" fill="#231f20" stroke="#231f20" stroke-width="0.2" >04</text>
<text x="210.85" y="302.2" font-size="8.2" text-anchor="end" textLength="8.3" lengthAdjust="spacingAndGlyphs" fill="#231f20" stroke="#231f20" stroke-width="0.2" >10</text>
<path d="M198.30,297.90 L202.00,301.10 M198.30,301.10 L202.00,297.90" stroke="#231f20" stroke-width="0.85" fill="none"/>
<text x="197.7" y="302.2" font-size="8.2" text-anchor="end" fill="#231f20" stroke="#231f20" stroke-width="0.2" >2</text>
<text x="217.45" y="322.70000000000005" font-size="5.3" text-anchor="end" textLength="6.0" lengthAdjust="spacingAndGlyphs" fill="#231f20" stroke="#231f20" stroke-width="0.2" >04</text>
<text x="210.85" y="325.6" font-size="8.2" text-anchor="end" textLength="8.3" lengthAdjust="spacingAndGlyphs" fill="#231f20" stroke="#231f20" stroke-width="0.2" >10</text>
<path d="M198.30,321.30 L202.00,324.50 M198.30,324.50 L202.00,321.30" stroke="#231f20" stroke-width="0.85" fill="none"/>
<text x="197.7" y="325.6" font-size="8.2" text-anchor="end" fill="#231f20" stroke="#231f20" stroke-width="0.2" >2</text>
<text x="217.45" y="345.70000000000005" font-size="5.3" text-anchor="end" textLength="6.0" lengthAdjust="spacingAndGlyphs" fill="#231f20" stroke="#231f20" stroke-width="0.2" >04</text>
<text x="210.85" y="348.6" font-size="8.2" text-anchor="end" textLength="8.3" lengthAdjust="spacingAndGlyphs" fill="#231f20" stroke="#231f20" stroke-width="0.2" >10</text>
<path d="M198.30,344.30 L202.00,347.50 M198.30,347.50 L202.00,344.30" stroke="#231f20" stroke-width="0.85" fill="none"/>
<text x="197.7" y="348.6" font-size="8.2" text-anchor="end" fill="#231f20" stroke="#231f20" stroke-width="0.2" >1</text>
<text x="217.45" y="368.70000000000005" font-size="5.3" text-anchor="end" textLength="6.0" lengthAdjust="spacingAndGlyphs" fill="#231f20" stroke="#231f20" stroke-width="0.2" >03</text>
<text x="210.85" y="371.6" font-size="8.2" text-anchor="end" textLength="8.3" lengthAdjust="spacingAndGlyphs" fill="#231f20" stroke="#231f20" stroke-width="0.2" >10</text>
<path d="M198.30,367.30 L202.00,370.50 M198.30,370.50 L202.00,367.30" stroke="#231f20" stroke-width="0.85" fill="none"/>
<text x="197.7" y="371.6" font-size="8.2" text-anchor="end" fill="#231f20" stroke="#231f20" stroke-width="0.2" >5</text>
<text x="217.5" y="394.3" font-size="8.2" text-anchor="end" fill="#231f20" stroke="#231f20" stroke-width="0.2" >0</text>
<text x="237.5" y="404.8" font-size="8.0" text-anchor="middle" textLength="11.3" lengthAdjust="spacingAndGlyphs" fill="#231f20" stroke="#231f20" stroke-width="0.2" >Pre</text>
<text x="266.4" y="404.8" font-size="8.0" text-anchor="middle" textLength="14.3" lengthAdjust="spacingAndGlyphs" fill="#231f20" stroke="#231f20" stroke-width="0.2" >Post</text>
<text x="294.9" y="404.8" font-size="8.0" text-anchor="middle" textLength="11.3" lengthAdjust="spacingAndGlyphs" fill="#231f20" stroke="#231f20" stroke-width="0.2" >Pre</text>
<text x="323.2" y="404.8" font-size="8.0" text-anchor="middle" textLength="14.3" lengthAdjust="spacingAndGlyphs" fill="#231f20" stroke="#231f20" stroke-width="0.2" >Post</text>
<line x1="232.2" y1="409.8" x2="273.4" y2="409.8" stroke="#7f7f7f" stroke-width="1.5"/>
<line x1="289.59999999999997" y1="409.8" x2="330.2" y2="409.8" stroke="#7f7f7f" stroke-width="1.5"/>
<text x="252.95" y="419.9" font-size="8.0" text-anchor="middle" fill="#231f20" stroke="#231f20" stroke-width="0.2" >5</text>
<text x="310.24999999999994" y="419.9" font-size="8.0" text-anchor="middle" textLength="8.4" lengthAdjust="spacingAndGlyphs" fill="#231f20" stroke="#231f20" stroke-width="0.2" >42</text>
<text x="280.55" y="433.0" font-size="9.4" text-anchor="middle" textLength="95" lengthAdjust="spacingAndGlyphs" fill="#231f20" stroke="#231f20" stroke-width="0.2" >Storage duration (days)</text>
<circle cx="234.1" cy="384.5" r="2.15" fill="#d4998a"/>
<circle cx="241.5" cy="382.9" r="2.15" fill="#d4998a"/>
<circle cx="241.5" cy="385" r="2.15" fill="#d4998a"/>
<circle cx="234.1" cy="385.9" r="2.15" fill="#d4998a"/>
<circle cx="229.5" cy="389.4" r="2.15" fill="#d4998a"/>
<circle cx="232.1" cy="389.4" r="2.15" fill="#d4998a"/>
<circle cx="234.7" cy="389.4" r="2.15" fill="#d4998a"/>
<circle cx="237.3" cy="389.4" r="2.15" fill="#d4998a"/>
<circle cx="239.9" cy="389.4" r="2.15" fill="#d4998a"/>
<circle cx="242.5" cy="389.4" r="2.15" fill="#d4998a"/>
<circle cx="245.1" cy="389.4" r="2.15" fill="#d4998a"/>
<line x1="228.3" y1="388.1" x2="247.5" y2="388.1" stroke="#111" stroke-width="1.3"/>
<circle cx="273" cy="377.65" r="2.15" fill="#a01b37"/>
<circle cx="259.3" cy="379.5" r="2.15" fill="#a01b37"/>
<circle cx="266" cy="380.6" r="2.15" fill="#a01b37"/>
<circle cx="259.3" cy="382.2" r="2.15" fill="#a01b37"/>
<circle cx="266" cy="382.5" r="2.15" fill="#a01b37"/>
<circle cx="273.5" cy="384.1" r="2.15" fill="#a01b37"/>
<circle cx="259.3" cy="384.4" r="2.15" fill="#a01b37"/>
<circle cx="266" cy="384.4" r="2.15" fill="#a01b37"/>
<circle cx="259.3" cy="386.8" r="2.15" fill="#a01b37"/>
<circle cx="262.8" cy="387.1" r="2.15" fill="#a01b37"/>
<circle cx="269.2" cy="386.8" r="2.15" fill="#a01b37"/>
<circle cx="273.5" cy="386.5" r="2.15" fill="#a01b37"/>
<circle cx="266" cy="389.2" r="2.15" fill="#a01b37"/>
<circle cx="273.5" cy="388.7" r="2.15" fill="#a01b37"/>
<circle cx="260.5" cy="388.3" r="2.15" fill="#a01b37"/>
<line x1="257.1" y1="385.1" x2="276" y2="385.1" stroke="#111" stroke-width="1.3"/>
<circle cx="294.8" cy="380" r="2.15" fill="#a5a6c6"/>
<circle cx="287.6" cy="386" r="2.15" fill="#a5a6c6"/>
<circle cx="294.8" cy="386.7" r="2.15" fill="#a5a6c6"/>
<circle cx="301.7" cy="386.7" r="2.15" fill="#a5a6c6"/>
<circle cx="287.0" cy="389.2" r="2.15" fill="#a5a6c6"/>
<circle cx="289.9" cy="389.2" r="2.15" fill="#a5a6c6"/>
<circle cx="292.8" cy="389.2" r="2.15" fill="#a5a6c6"/>
<circle cx="295.7" cy="389.2" r="2.15" fill="#a5a6c6"/>
<circle cx="298.6" cy="389.2" r="2.15" fill="#a5a6c6"/>
<circle cx="301.5" cy="389.2" r="2.15" fill="#a5a6c6"/>
<circle cx="304.4" cy="389.2" r="2.15" fill="#a5a6c6"/>
<line x1="285.5" y1="388.7" x2="304.7" y2="388.7" stroke="#111" stroke-width="1.3"/>
<circle cx="323.3" cy="288.9" r="2.15" fill="#34517f"/>
<circle cx="323.3" cy="322.7" r="2.15" fill="#34517f"/>
<circle cx="320" cy="341.9" r="2.15" fill="#34517f"/>
<circle cx="326.7" cy="341.9" r="2.15" fill="#34517f"/>
<circle cx="316.6" cy="349.5" r="2.15" fill="#34517f"/>
<circle cx="323.3" cy="350.1" r="2.15" fill="#34517f"/>
<circle cx="316.6" cy="352.5" r="2.15" fill="#34517f"/>
<circle cx="323.3" cy="353.2" r="2.15" fill="#34517f"/>
<circle cx="330.1" cy="352.8" r="2.15" fill="#34517f"/>
<circle cx="323.3" cy="356.3" r="2.15" fill="#34517f"/>
<circle cx="316.6" cy="360.6" r="2.15" fill="#34517f"/>
<circle cx="323.3" cy="362.3" r="2.15" fill="#34517f"/>
<circle cx="330.1" cy="360.6" r="2.15" fill="#34517f"/>
<circle cx="323.3" cy="368.8" r="2.15" fill="#34517f"/>
<circle cx="316.6" cy="372.1" r="2.15" fill="#34517f"/>
<circle cx="320" cy="374.9" r="2.15" fill="#34517f"/>
<circle cx="326.7" cy="372.8" r="2.15" fill="#34517f"/>
<line x1="314.5" y1="352.8" x2="333.5" y2="352.8" stroke="#111" stroke-width="1.3"/>
<path d="M295.8,336.5 L295.8,330.2 L324.3,330.2 L324.3,336.5" fill="none" stroke="#231f20" stroke-width="1.1"/>
<path d="M306.93,324.85 L306.93,327.35 M308.02,325.48 L305.85,326.73 M308.02,326.73 L305.85,325.48 " stroke="#231f20" stroke-width="0.75" fill="none"/>
<path d="M309.80,324.85 L309.80,327.35 M310.88,325.48 L308.72,326.73 M310.88,326.73 L308.72,325.48 " stroke="#231f20" stroke-width="0.75" fill="none"/>
<path d="M312.67,324.85 L312.67,327.35 M313.75,325.48 L311.58,326.73 M313.75,326.73 L311.58,325.48 " stroke="#231f20" stroke-width="0.75" fill="none"/>
<text x="445.3" y="268.7" font-size="8.6" text-anchor="middle" textLength="27.6" lengthAdjust="spacingAndGlyphs" fill="#231f20" stroke="#231f20" stroke-width="0.2" >9-HODE</text>
<line x1="388.1" y1="274.0" x2="388.1" y2="392.40000000000003" stroke="#2b2b2b" stroke-width="1.35"/>
<line x1="384.90000000000003" y1="391.8" x2="502.5" y2="391.8" stroke="#2b2b2b" stroke-width="1.3"/>
<line x1="384.90000000000003" y1="277.0" x2="388.1" y2="277.0" stroke="#2b2b2b" stroke-width="1.15"/>
<line x1="384.90000000000003" y1="315.0" x2="388.1" y2="315.0" stroke="#2b2b2b" stroke-width="1.15"/>
<line x1="384.90000000000003" y1="353.3" x2="388.1" y2="353.3" stroke="#2b2b2b" stroke-width="1.15"/>
<line x1="402.1" y1="391.8" x2="402.1" y2="394.8" stroke="#2b2b2b" stroke-width="1.0"/>
<line x1="431.2" y1="391.8" x2="431.2" y2="394.8" stroke="#2b2b2b" stroke-width="1.0"/>
<line x1="459.4" y1="391.8" x2="459.4" y2="394.8" stroke="#2b2b2b" stroke-width="1.0"/>
<line x1="487.7" y1="391.8" x2="487.7" y2="394.8" stroke="#2b2b2b" stroke-width="1.0"/>
<text x="382.75" y="277.1" font-size="5.3" text-anchor="end" textLength="6.0" lengthAdjust="spacingAndGlyphs" fill="#231f20" stroke="#231f20" stroke-width="0.2" >06</text>
<text x="376.15000000000003" y="280.0" font-size="8.2" text-anchor="end" textLength="8.3" lengthAdjust="spacingAndGlyphs" fill="#231f20" stroke="#231f20" stroke-width="0.2" >10</text>
<path d="M363.60,275.70 L367.30,278.90 M363.60,278.90 L367.30,275.70" stroke="#231f20" stroke-width="0.85" fill="none"/>
<text x="363.0" y="280.0" font-size="8.2" text-anchor="end" fill="#231f20" stroke="#231f20" stroke-width="0.2" >6</text>
<text x="382.75" y="315.1" font-size="5.3" text-anchor="end" textLength="6.0" lengthAdjust="spacingAndGlyphs" fill="#231f20" stroke="#231f20" stroke-width="0.2" >06</text>
<text x="376.15000000000003" y="318.0" font-size="8.2" text-anchor="end" textLength="8.3" lengthAdjust="spacingAndGlyphs" fill="#231f20" stroke="#231f20" stroke-width="0.2" >10</text>
<path d="M363.60,313.70 L367.30,316.90 M363.60,316.90 L367.30,313.70" stroke="#231f20" stroke-width="0.85" fill="none"/>
<text x="363.0" y="318.0" font-size="8.2" text-anchor="end" fill="#231f20" stroke="#231f20" stroke-width="0.2" >4</text>
<text x="382.75" y="353.40000000000003" font-size="5.3" text-anchor="end" textLength="6.0" lengthAdjust="spacingAndGlyphs" fill="#231f20" stroke="#231f20" stroke-width="0.2" >06</text>
<text x="376.15000000000003" y="356.3" font-size="8.2" text-anchor="end" textLength="8.3" lengthAdjust="spacingAndGlyphs" fill="#231f20" stroke="#231f20" stroke-width="0.2" >10</text>
<path d="M363.60,352.00 L367.30,355.20 M363.60,355.20 L367.30,352.00" stroke="#231f20" stroke-width="0.85" fill="none"/>
<text x="363.0" y="356.3" font-size="8.2" text-anchor="end" fill="#231f20" stroke="#231f20" stroke-width="0.2" >2</text>
<text x="382.8" y="394.8" font-size="8.2" text-anchor="end" fill="#231f20" stroke="#231f20" stroke-width="0.2" >0</text>
<text x="402.1" y="404.8" font-size="8.0" text-anchor="middle" textLength="11.3" lengthAdjust="spacingAndGlyphs" fill="#231f20" stroke="#231f20" stroke-width="0.2" >Pre</text>
<text x="431.2" y="404.8" font-size="8.0" text-anchor="middle" textLength="14.3" lengthAdjust="spacingAndGlyphs" fill="#231f20" stroke="#231f20" stroke-width="0.2" >Post</text>
<text x="459.4" y="404.8" font-size="8.0" text-anchor="middle" textLength="11.3" lengthAdjust="spacingAndGlyphs" fill="#231f20" stroke="#231f20" stroke-width="0.2" >Pre</text>
<text x="487.7" y="404.8" font-size="8.0" text-anchor="middle" textLength="14.3" lengthAdjust="spacingAndGlyphs" fill="#231f20" stroke="#231f20" stroke-width="0.2" >Post</text>
<line x1="396.8" y1="409.8" x2="438.2" y2="409.8" stroke="#7f7f7f" stroke-width="1.5"/>
<line x1="454.09999999999997" y1="409.8" x2="494.7" y2="409.8" stroke="#7f7f7f" stroke-width="1.5"/>
<text x="417.65" y="419.9" font-size="8.0" text-anchor="middle" fill="#231f20" stroke="#231f20" stroke-width="0.2" >5</text>
<text x="474.74999999999994" y="419.9" font-size="8.0" text-anchor="middle" textLength="8.4" lengthAdjust="spacingAndGlyphs" fill="#231f20" stroke="#231f20" stroke-width="0.2" >42</text>
<text x="445.09999999999997" y="433.0" font-size="9.4" text-anchor="middle" textLength="95" lengthAdjust="spacingAndGlyphs" fill="#231f20" stroke="#231f20" stroke-width="0.2" >Storage duration (days)</text>
<circle cx="402.2" cy="363.5" r="2.15" fill="#d4998a"/>
<circle cx="398.7" cy="377" r="2.15" fill="#d4998a"/>
<circle cx="405.7" cy="383" r="2.15" fill="#d4998a"/>
<circle cx="395.1" cy="384.6" r="2.15" fill="#d4998a"/>
<circle cx="402.2" cy="386.7" r="2.15" fill="#d4998a"/>
<circle cx="409.2" cy="386.2" r="2.15" fill="#d4998a"/>
<circle cx="395.2" cy="389.9" r="2.15" fill="#d4998a"/>
<circle cx="397.59999999999997" cy="389.9" r="2.15" fill="#d4998a"/>
<circle cx="400.0" cy="389.9" r="2.15" fill="#d4998a"/>
<circle cx="402.4" cy="389.9" r="2.15" fill="#d4998a"/>
<circle cx="404.8" cy="389.9" r="2.15" fill="#d4998a"/>
<circle cx="407.2" cy="389.9" r="2.15" fill="#d4998a"/>
<circle cx="409.59999999999997" cy="389.9" r="2.15" fill="#d4998a"/>
<line x1="393.2" y1="387.3" x2="412" y2="387.3" stroke="#111" stroke-width="1.3"/>
<circle cx="430.7" cy="379.5" r="2.15" fill="#a01b37"/>
<circle cx="423.6" cy="386.7" r="2.15" fill="#a01b37"/>
<circle cx="430.7" cy="386.7" r="2.15" fill="#a01b37"/>
<circle cx="437.8" cy="388.3" r="2.15" fill="#a01b37"/>
<circle cx="423.3" cy="390.2" r="2.15" fill="#a01b37"/>
<circle cx="425.90000000000003" cy="390.2" r="2.15" fill="#a01b37"/>
<circle cx="428.5" cy="390.2" r="2.15" fill="#a01b37"/>
<circle cx="431.1" cy="390.2" r="2.15" fill="#a01b37"/>
<circle cx="433.7" cy="390.2" r="2.15" fill="#a01b37"/>
<circle cx="436.3" cy="390.2" r="2.15" fill="#a01b37"/>
<circle cx="438.90000000000003" cy="390.2" r="2.15" fill="#a01b37"/>
<line x1="422.3" y1="389.4" x2="440.6" y2="389.4" stroke="#111" stroke-width="1.3"/>
<circle cx="459.4" cy="297.5" r="2.15" fill="#a5a6c6"/>
<circle cx="459.4" cy="383.8" r="2.15" fill="#a5a6c6"/>
<circle cx="452.5" cy="387.9" r="2.15" fill="#a5a6c6"/>
<circle cx="466.3" cy="387.9" r="2.15" fill="#a5a6c6"/>
<circle cx="451.8" cy="389.6" r="2.15" fill="#a5a6c6"/>
<circle cx="454.3" cy="389.6" r="2.15" fill="#a5a6c6"/>
<circle cx="456.8" cy="389.6" r="2.15" fill="#a5a6c6"/>
<circle cx="459.3" cy="389.6" r="2.15" fill="#a5a6c6"/>
<circle cx="461.8" cy="389.6" r="2.15" fill="#a5a6c6"/>
<circle cx="464.3" cy="389.6" r="2.15" fill="#a5a6c6"/>
<circle cx="466.8" cy="389.6" r="2.15" fill="#a5a6c6"/>
<line x1="450.2" y1="384.65" x2="469.2" y2="384.65" stroke="#111" stroke-width="1.3"/>
<circle cx="487.9" cy="365.6" r="2.15" fill="#34517f"/>
<circle cx="481" cy="387.3" r="2.15" fill="#34517f"/>
<circle cx="487.9" cy="386.2" r="2.15" fill="#34517f"/>
<circle cx="480.6" cy="389.6" r="2.15" fill="#34517f"/>
<circle cx="483.1" cy="389.6" r="2.15" fill="#34517f"/>
<circle cx="485.6" cy="389.6" r="2.15" fill="#34517f"/>
<circle cx="488.1" cy="389.6" r="2.15" fill="#34517f"/>
<circle cx="490.6" cy="389.6" r="2.15" fill="#34517f"/>
<circle cx="493.1" cy="389.6" r="2.15" fill="#34517f"/>
<circle cx="495.6" cy="389.6" r="2.15" fill="#34517f"/>
<line x1="479" y1="388.8" x2="497.5" y2="388.8" stroke="#111" stroke-width="1.3"/>
<rect x="0" y="0" width="520" height="1" fill="#111"/>
<rect x="0" y="442" width="520" height="1" fill="#111"/>
<rect x="519" y="0" width="1" height="443" fill="#111"/>
<rect x="0" y="0" width="1" height="443" fill="#444"/>
<rect x="1" y="0" width="1" height="443" fill="#aaa"/>
</svg>
</body></html>
